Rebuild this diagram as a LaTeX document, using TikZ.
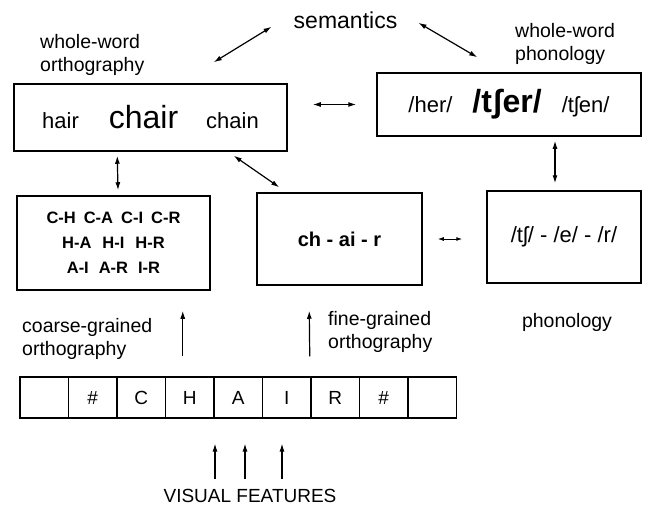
\documentclass[tikz,border=0pt]{standalone}
\usepackage{fontspec}
\setmainfont{Liberation Sans}
\usetikzlibrary{arrows.meta,positioning}
\newcommand{\sz}[1]{\fontsize{#1}{#1}\selectfont}
\tikzset{
  box/.style={draw, line width=1.5pt, inner sep=0pt},
  lbl/.style={align=left, inner sep=0pt, anchor=base west, font=\fontsize{19.5}{23}\selectfont},
  link/.style={{Latex[length=8pt,width=5pt]}-{Latex[length=8pt,width=5pt]}, line width=1.2pt},
  shortlink/.style={{Latex[length=6pt,width=4pt]}-{Latex[length=6pt,width=4pt]}, line width=1pt},
  up/.style={-{Latex[length=8pt,width=5pt]}, line width=1.2pt},
  cell/.style={draw, line width=1.2pt, minimum width=48.5pt, minimum height=41pt, inner sep=0pt, font=\sz{19}}
}
\begin{document}
\begin{tikzpicture}[x=1pt,y=-1pt]
\useasboundingbox (0,0) rectangle (646,506);
\node[inner sep=0pt, anchor=base, font=\sz{23}] (sem) at (345.5,28) {semantics};
\node[lbl] (orthlbl) at (40,71) {whole-word\\orthography};
\node[lbl] (phonlbl) at (515,60) {whole-word\\phonology};
\node[box, minimum width=273pt, minimum height=67pt] (ortho) at (150.5,117.5)
  {\sz{22}hair\hspace{30pt}\sz{32}chair\hspace{28pt}\sz{22}chain};
\node[box, minimum width=264pt, minimum height=63pt] (phonw) at (509,104.5)
  {\sz{22}/her/\hspace{20pt}{\bfseries\sz{32}/tʃer/}\hspace{20pt}\sz{22}/tʃen/};
\node[box, minimum width=193pt, minimum height=94pt, align=center, font=\bfseries\fontsize{16.5}{25}\selectfont] (coarse) at (113.5,243)
  {C-H\hspace{8pt}C-A\hspace{8pt}C-I\hspace{8pt}C-R\\H-A\hspace{11pt}H-I\hspace{11pt}H-R\\A-I\hspace{10pt}A-R\hspace{10pt}I-R};
\node[box, minimum width=165pt, minimum height=92pt, font=\bfseries\sz{20}] (fine) at (339.5,239) {ch - ai - r};
\node[box, minimum width=154pt, minimum height=92pt, font=\sz{22}] (phon) at (564,237) {/tʃ/ - /e/ - /r/};
\node[lbl] (coarselbl) at (22,355) {coarse-grained\\orthography};
\node[lbl] (finelbl) at (328,348) {fine-grained\\orthography};
\node[inner sep=0pt, anchor=base, font=\sz{19.5}] (phonology) at (567,327) {phonology};
\foreach \ch [count=\i] in {{},\#,C,H,A,I,R,\#,{}}
  \node[cell] (c\i) at ({20+48.5*(\i-0.5)},397.5) {\ch};
\node[inner sep=0pt, anchor=base, font=\sz{19}] (vis) at (250,502) {VISUAL FEATURES};
\draw[link] ([xshift=-22pt,yshift=-7pt]sem.west) -- ([xshift=-74pt,yshift=21pt]ortho.north east);
\draw[link] ([xshift=21pt,yshift=-3pt]sem.east) -- ([xshift=101pt,yshift=15pt]phonw.north west);
\draw[link] ([xshift=25pt,yshift=13pt]ortho.east) -- ([xshift=-20pt]phonw.west);
\draw[link] ([xshift=46pt,yshift=-4pt]phonw.south) -- ([xshift=-9pt,yshift=7pt]phon.north);
\draw[link] ([xshift=104pt,yshift=-4pt]ortho.south west) -- ([xshift=4.5pt,yshift=5pt]coarse.north);
\draw[link] ([xshift=-54pt,yshift=-4pt]ortho.south east) -- ([xshift=23pt,yshift=5pt]fine.north west);
\draw[shortlink] ([xshift=15pt]fine.east) -- ([xshift=-24pt,yshift=-2pt]phon.west);
\draw[up] ([xshift=-7pt,yshift=20pt]c4.north) -- ([xshift=-28pt,yshift=-20pt]coarse.south east);
\draw[up] ([xshift=23pt,yshift=20pt]c6.north) -- ([xshift=53pt,yshift=-25pt]fine.south west);
\foreach \dx in {-35,-5,32}
  \draw[up] ([xshift=\dx pt,yshift=10pt]vis.north) -- ++(0,-35);
\end{tikzpicture}
\end{document}
